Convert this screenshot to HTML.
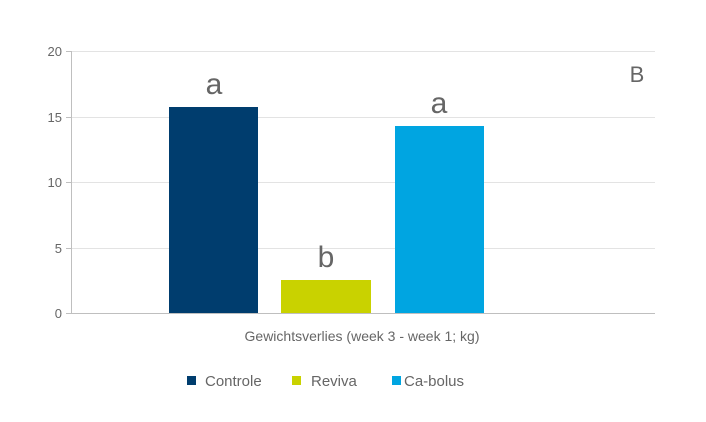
<!DOCTYPE html>
<html><head><meta charset="utf-8"><style>
body{margin:0;background:#fff;}
svg text{font-family:"Liberation Sans",sans-serif;fill:#666;}
</style></head><body>
<svg width="706" height="417" xmlns="http://www.w3.org/2000/svg">
<g stroke="#e3e3e3" stroke-width="1">
<line x1="71" y1="51.5" x2="655" y2="51.5"/>
<line x1="71" y1="117.5" x2="655" y2="117.5"/>
<line x1="71" y1="182.5" x2="655" y2="182.5"/>
<line x1="71" y1="248.5" x2="655" y2="248.5"/>
</g>
<g stroke="#bfbfbf" stroke-width="1">
<line x1="71.5" y1="51" x2="71.5" y2="314"/>
<line x1="66" y1="51.5" x2="71" y2="51.5"/>
<line x1="66" y1="117.5" x2="71" y2="117.5"/>
<line x1="66" y1="182.5" x2="71" y2="182.5"/>
<line x1="66" y1="248.5" x2="71" y2="248.5"/>
<line x1="66" y1="313.5" x2="655" y2="313.5"/>
</g>
<g font-size="13" text-anchor="end">
<text x="62" y="56">20</text>
<text x="62" y="122">15</text>
<text x="62" y="187">10</text>
<text x="62" y="253">5</text>
<text x="62" y="318">0</text>
</g>
<rect x="169" y="107" width="89" height="206" fill="#003d6e"/>
<rect x="281" y="280" width="90" height="33" fill="#c9d200"/>
<rect x="395" y="126" width="89" height="187" fill="#00a5e1"/>
<g font-size="30" text-anchor="middle">
<text x="214" y="94">a</text>
<text x="326" y="267">b</text>
<text x="439" y="113">a</text>
</g>
<text x="637" y="82" font-size="22" text-anchor="middle">B</text>
<text x="362" y="341" font-size="14" text-anchor="middle">Gewichtsverlies (week 3 - week 1; kg)</text>
<rect x="187" y="376" width="9" height="9" fill="#003d6e"/>
<text x="205" y="386" font-size="15">Controle</text>
<rect x="292" y="376" width="9" height="9" fill="#c9d200"/>
<text x="311" y="386" font-size="15">Reviva</text>
<rect x="392" y="376" width="9" height="9" fill="#00a5e1"/>
<text x="404" y="386" font-size="15">Ca-bolus</text>
</svg>
</body></html>
